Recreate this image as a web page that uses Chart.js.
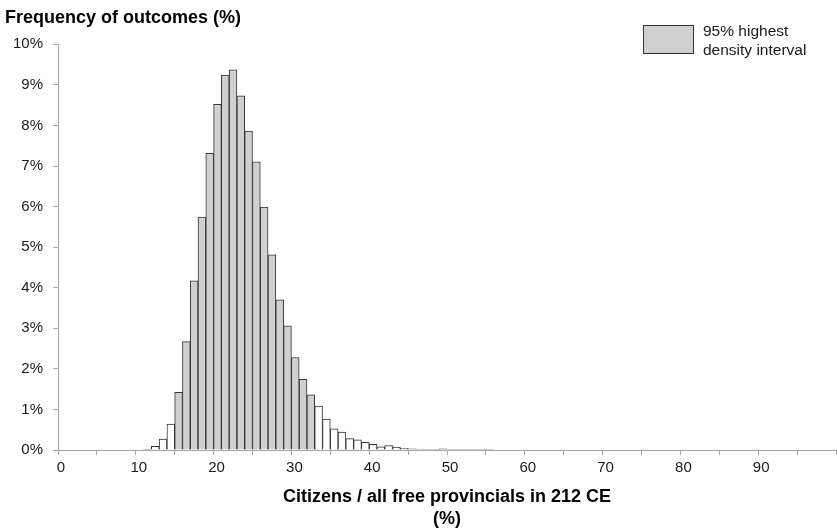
<!DOCTYPE html>
<html>
<head>
<meta charset="utf-8">
<title>Citizens / all free provincials in 212 CE</title>
<script src="https://cdn.jsdelivr.net/npm/chart.js@4.4.1/dist/chart.umd.min.js"></script>
<style>
  html, body { margin: 0; padding: 0; background: #fff; }
  #wrap { width: 837px; height: 530px; position: relative; }
</style>
</head>
<body>
<div id="wrap"><canvas id="hist"></canvas></div>
<script>
/* Histogram of simulated outcomes, 1-point bins.
   binStart = left edge of each bin (%), freqPct = share of outcomes (%). */
const binStart = [11, 12, 13, 14, 15, 16, 17, 18, 19, 20,
                  21, 22, 23, 24, 25, 26, 27, 28, 29, 30,
                  31, 32, 33, 34, 35, 36, 37, 38, 39, 40,
                  41, 42, 43, 44, 45, 46, 47, 48, 49, 50,
                  51, 52, 53, 54, 55];
const freqPct  = [0.02, 0.09, 0.27, 0.64, 1.42, 2.67, 4.17, 5.74, 7.31, 8.52,
                  9.24, 9.37, 8.73, 7.86, 7.10, 5.99, 4.81, 3.70, 3.06, 2.28,
                  1.74, 1.36, 1.08, 0.76, 0.52, 0.44, 0.28, 0.25, 0.19, 0.14,
                  0.08, 0.11, 0.07, 0.04, 0.03, 0.025, 0.015, 0.01, 0.03, 0.008,
                  0.006, 0.005, 0.004, 0.004, 0.003];
// 95% highest density interval: bins from 15 up to (not incl.) 33
const hdiFrom = 15;
const hdiTo = 33;

const xTickLabels = ['0', '10', '20', '30', '40', '50', '60', '70', '80', '90'];
const yTickLabels = ['0%', '1%', '2%', '3%', '4%', '5%', '6%', '7%', '8%', '9%', '10%'];
const yTitle = 'Frequency of outcomes (%)';
const xTitle = ['Citizens / all free provincials in 212 CE', '(%)'];
const legendLines = ['95% highest', 'density interval'];

const FONT = "'Liberation Sans', Arial, Helvetica, sans-serif";
const GRAY = '#d0d0d0';
const EDGE = '#333333';
const AXIS = '#a6a6a6';
const INK = '#1a1a1a';

Chart.defaults.font.family = FONT;
Chart.defaults.color = INK;

// legend box drawn by hand: two-line label next to a big grey swatch
const hdiLegend = {
  id: 'hdiLegend',
  afterDraw(chart) {
    const ctx = chart.ctx;
    const x = Math.round(chart.chartArea.right - 193);
    const y = 25;
    ctx.save();
    ctx.fillStyle = GRAY;
    ctx.fillRect(x, y, 50, 28);
    ctx.strokeStyle = EDGE;
    ctx.lineWidth = 1;
    ctx.strokeRect(x + 0.5, y + 0.5, 50, 28);
    ctx.font = '15.5px ' + FONT;
    ctx.fillStyle = INK;
    ctx.textBaseline = 'middle';
    legendLines.forEach((t, i) => ctx.fillText(t, x + 60, y + 7 + i * 18.5));
    ctx.restore();
  }
};

new Chart(document.getElementById('hist').getContext('2d'), {
  type: 'bar',
  data: {
    datasets: [{
      label: legendLines.join(' '),
      data: binStart.map((b, i) => ({ x: b + 0.5, y: freqPct[i] })),
      backgroundColor: binStart.map(b => (b >= hdiFrom && b < hdiTo) ? GRAY : '#ffffff'),
      borderColor: EDGE,
      borderWidth: 1,
      barPercentage: 1,
      categoryPercentage: 1
    }]
  },
  options: {
    responsive: true,
    maintainAspectRatio: false,
    animation: false,
    layout: { padding: { left: 5, right: 1, top: 0, bottom: 0 } },
    plugins: {
      legend: { display: false },
      tooltip: { enabled: false },
      title: {
        display: true, text: yTitle, align: 'start', color: '#000',
        font: { size: 18, weight: 'bold' },
        padding: { top: 7, bottom: 15.7 }
      }
    },
    scales: {
      x: {
        type: 'linear', min: 0, max: 100, offset: false,
        grid: { drawOnChartArea: false, drawTicks: true, tickLength: 5, tickColor: AXIS, offset: false },
        border: { color: AXIS },
        ticks: {
          stepSize: 5, autoSkip: false, maxRotation: 0, padding: 4, labelOffset: 3,
          font: { size: 15 }, color: INK,
          callback: (v, i) => (i % 2 === 0 && xTickLabels[i / 2] !== undefined) ? xTickLabels[i / 2] : ''
        },
        title: {
          display: true, text: xTitle, color: '#000',
          font: { size: 18, weight: 'bold', lineHeight: 1.222 },
          padding: { top: 0, bottom: 0 }
        },
        afterFit: (s) => { s.height = 80; s.paddingRight = 0; }
      },
      y: {
        min: 0, max: 10,
        grid: { drawOnChartArea: false, drawTicks: true, tickLength: 5, tickColor: AXIS },
        border: { color: AXIS },
        ticks: {
          stepSize: 1, padding: 10, font: { size: 15 }, color: INK,
          callback: (v, i) => yTickLabels[i]
        },
        afterFit: (s) => { s.width = 53; }
      }
    }
  },
  plugins: [hdiLegend]
});
</script>
</body>
</html>
